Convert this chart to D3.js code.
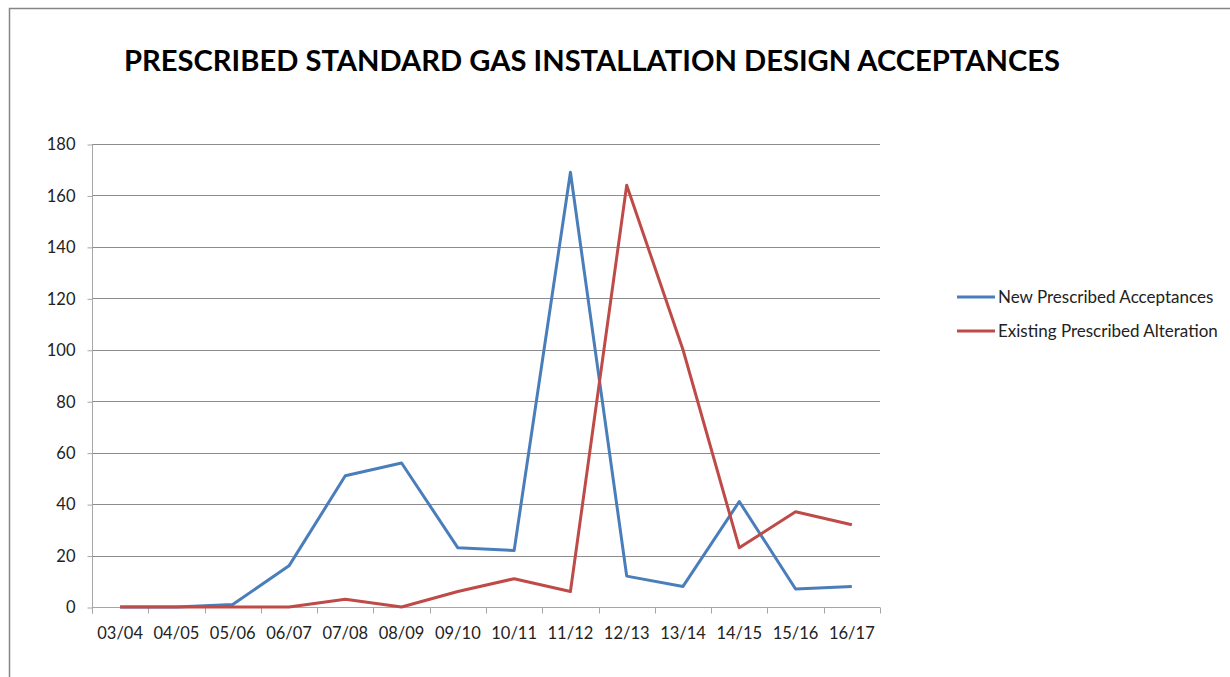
<!DOCTYPE html>
<html>
<head>
<meta charset="utf-8">
<script src="https://cdn.jsdelivr.net/npm/d3@7"></script>
<style>
	body { margin: 0; background: #fff; }
	svg { display: block; font-family: Lato, "Open Sans", sans-serif; }
</style>
</head>
<body>
<div id="chart"></div>
<script>
// chart values
var years = ["03/04", "04/05", "05/06", "06/07", "07/08", "08/09", "09/10",
	"10/11", "11/12", "12/13", "13/14", "14/15", "15/16", "16/17"];
var newAcceptances = [0, 0, 1, 16, 51, 56, 23, 22, 169, 12, 8, 41, 7, 8];
var existingAlteration = [0, 0, 0, 0, 3, 0, 6, 11, 6, 164, 100, 23, 37, 32];
var yTicks = [0, 20, 40, 60, 80, 100, 120, 140, 160, 180];
var seriesNames = ["New Prescribed Acceptances", "Existing Prescribed Alteration"];
var seriesColors = ["#4a7ebb", "#be4b48"];

var width = 1230, height = 677;
var plot = { left: 92, right: 880, top: 144, bottom: 607 };

var svg = d3.select("#chart").append("svg")
	.attr("width", width)
	.attr("height", height);

// outer chart frame (runs off the right and bottom of the picture)
svg.append("rect")
	.attr("x", 9.5).attr("y", 8.5)
	.attr("width", 1300).attr("height", 700)
	.attr("fill", "none")
	.attr("stroke", "#868686")
	.attr("stroke-width", 1.5);

svg.append("text")
	.attr("x", 124).attr("y", 71)
	.attr("textLength", 936)
	.attr("lengthAdjust", "spacingAndGlyphs")
	.attr("font-size", 29)
	.attr("font-weight", "bold")
	.attr("fill", "#000")
	.text("PRESCRIBED STANDARD GAS INSTALLATION DESIGN ACCEPTANCES");

var x = d3.scaleBand().domain(years).range([plot.left, plot.right]);
var y = d3.scaleLinear().domain([0, 180]).range([plot.bottom, plot.top]);

// horizontal grid lines
svg.append("g").selectAll("line")
	.data(yTicks.filter(function (d) { return d > 0; }))
	.join("line")
	.attr("x1", plot.left).attr("x2", plot.right)
	.attr("y1", function (d) { return Math.round(y(d)) + 0.5; })
	.attr("y2", function (d) { return Math.round(y(d)) + 0.5; })
	.attr("stroke", "#8c8c8c")
	.attr("stroke-width", 1);

// y axis
var yAxis = svg.append("g")
	.attr("transform", "translate(" + (plot.left + 0.5) + ",0.5)")
	.call(d3.axisLeft(y).tickValues(yTicks).tickSize(5).tickPadding(12));
yAxis.selectAll("path, line").attr("stroke", "#a6a6a6");
yAxis.select(".domain").attr("d", "M0," + plot.top + "V" + (plot.bottom + 6));
yAxis.selectAll("text")
	.attr("font-family", "Lato, sans-serif")
	.attr("font-size", 16.5)
	.attr("fill", "#222");

// x axis: ticks sit between categories
var xAxis = svg.append("g")
	.attr("transform", "translate(0," + (Math.round(plot.bottom) + 0.5) + ")");
xAxis.append("line")
	.attr("x1", plot.left).attr("x2", plot.right)
	.attr("stroke", "#a6a6a6");
xAxis.selectAll("line.tick")
	.data(years.concat(["end"]))
	.join("line")
	.attr("class", "tick")
	.attr("x1", function (d, i) { return Math.round(plot.left + i * x.step()) + 0.5; })
	.attr("x2", function (d, i) { return Math.round(plot.left + i * x.step()) + 0.5; })
	.attr("y1", 0).attr("y2", 6)
	.attr("stroke", "#a6a6a6");
xAxis.selectAll("text")
	.data(years)
	.join("text")
	.attr("x", function (d) { return x(d) + x.bandwidth() / 2; })
	.attr("y", 31)
	.attr("text-anchor", "middle")
	.attr("font-size", 16.5)
	.attr("fill", "#222")
	.text(function (d) { return d; });

// the two series
var line = d3.line()
	.x(function (d, i) { return x(years[i]) + x.bandwidth() / 2; })
	.y(function (d) { return y(d); });

[newAcceptances, existingAlteration].forEach(function (values, k) {
	svg.append("path")
		.datum(values)
		.attr("d", line)
		.attr("fill", "none")
		.attr("stroke", seriesColors[k])
		.attr("stroke-width", 3)
		.attr("stroke-linejoin", "round");
});

// legend
var legend = svg.append("g").attr("transform", "translate(957,297)");
seriesNames.forEach(function (name, k) {
	var row = legend.append("g").attr("transform", "translate(0," + (k * 34) + ")");
	row.append("line")
		.attr("x1", 0).attr("x2", 38)
		.attr("stroke", seriesColors[k])
		.attr("stroke-width", 3);
	row.append("text")
		.attr("x", 41).attr("y", 6)
		.attr("font-size", 17)
		.attr("fill", "#222")
		.text(name);
});
</script>
</body>
</html>
